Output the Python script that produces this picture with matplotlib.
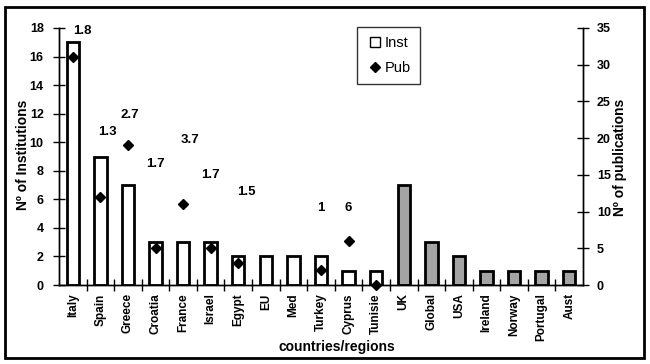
import numpy as np
import matplotlib.pyplot as plt
from matplotlib.lines import Line2D
from matplotlib.patches import Rectangle

plt.rcParams['font.family'] = ['Liberation Sans', 'DejaVu Sans']

# mediterranean countries/regions (white bars, with publications)
med_regions = ['Italy', 'Spain', 'Greece', 'Croatia', 'France', 'Israel', 'Egypt',
               'EU', 'Med', 'Turkey', 'Cyprus', 'Tunisie']
med_inst = [17, 9, 7, 3, 3, 3, 2, 2, 2, 2, 1, 1]
med_pub = [31, 12, 19, 5, 11, 5, 3, np.nan, np.nan, 2, 6, 0]

# other countries/regions (grey bars)
other_regions = ['UK', 'Global', 'USA', 'Ireland', 'Norway', 'Portugal', 'Aust']
other_inst = [7, 3, 2, 1, 1, 1, 1]

# where the pub/inst ratio labels sit (x offset, y on left axis)
label_pos = {'Italy': (0.33, 17.8), 'Spain': (0.24, 10.7), 'Greece': (0.07, 11.9),
             'Croatia': (0.0, 8.5), 'France': (0.25, 10.15), 'Israel': (0.0, 7.7),
             'Egypt': (0.3, 6.5), 'Turkey': (0.0, 5.4), 'Cyprus': (0.0, 5.4)}

if __name__ == '__main__':
    cats = med_regions + other_regions
    x = np.arange(len(cats))
    xm = x[:len(med_regions)]
    xo = x[len(med_regions):]

    fig = plt.figure(figsize=(6.5, 3.64), dpi=100)
    ax = fig.add_axes([59/650, 1 - 285/364, 524/650, 257/364])
    ax2 = ax.twinx()

    ax.bar(xm, med_inst, width=0.45, color='white', edgecolor='black', linewidth=2, zorder=2)
    ax.bar(xo, other_inst, width=0.45, color='#a4a4a4', edgecolor='black', linewidth=2, zorder=2)
    ax2.plot(xm, med_pub, 'kD', markersize=5, zorder=3, clip_on=False)

    for i, c in enumerate(med_regions):
        if c in label_pos:
            r = med_pub[i] / med_inst[i]
            dx, yy = label_pos[c]
            ax.text(xm[i] + dx, yy, '%g' % round(r, 1), ha='center', va='center',
                    fontsize=9.5, fontweight='bold')

    ax.set_xlim(-0.5, len(cats) - 0.5)
    ax.set_ylim(0, 18)
    ax.set_yticks(np.arange(0, 19, 2))
    ax2.set_ylim(0, 35)
    ax2.set_yticks(np.arange(0, 36, 5))

    ax.set_xticks(x)
    ax.set_xticklabels(cats, rotation=90, fontsize=8.5, fontweight='bold')
    ax.tick_params(axis='x', length=0, pad=6)
    ax.set_xticks(np.arange(0.5, len(cats) - 1, 1), minor=True)
    ax.tick_params(axis='x', which='minor', length=8, direction='inout', width=1)
    ax.tick_params(axis='y', length=8, direction='inout', width=1, labelsize=9, pad=7)
    ax2.tick_params(axis='y', length=8, direction='inout', width=1, labelsize=9, pad=6)
    for lab in ax.get_yticklabels() + ax2.get_yticklabels():
        lab.set_fontweight('bold')

    for a in (ax, ax2):
        a.spines['top'].set_visible(False)
        a.spines['left'].set_linewidth(1)
        a.spines['right'].set_linewidth(1)
        a.spines['bottom'].set_linewidth(1)

    fig.text(23/650, 1 - 155/364, 'Nº of Institutions', rotation=90, ha='center', va='center',
             fontsize=10, fontweight='bold')
    fig.text(620/650, 1 - 157/364, 'Nº of publications', rotation=90, ha='center', va='center',
             fontsize=10, fontweight='bold')
    fig.text(337/650, 1 - 347/364, 'countries/regions', ha='center', va='center',
             fontsize=10, fontweight='bold')

    handles = [Line2D([], [], marker='s', color='none', mfc='white', mec='black', markersize=7),
               Line2D([], [], marker='D', color='none', mfc='black', mec='black', markersize=5)]
    leg = fig.legend(handles, ['Inst', 'Pub'], loc='upper left',
                     bbox_to_anchor=(357/650, 1 - 27/364), frameon=True, fancybox=False,
                     edgecolor='black', fontsize=10.5, handletextpad=0.1, handlelength=1.2,
                     labelspacing=0.8, borderpad=0.6, borderaxespad=0)
    leg.get_frame().set_linewidth(1)

    fig.patches.append(Rectangle((5/650, 1 - 358/364), 639/650, 351/364,
                                 transform=fig.transFigure, fill=False,
                                 edgecolor='black', linewidth=2))

    fig.savefig('out.png', dpi=100)
